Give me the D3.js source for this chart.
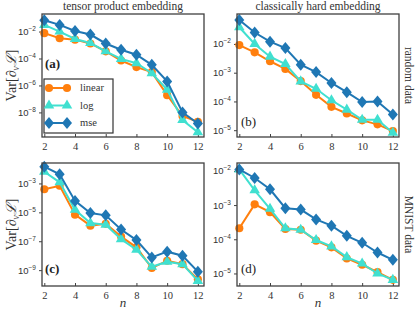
<!DOCTYPE html>
<html>
<head>
<meta charset="utf-8">
<script src="https://d3js.org/d3.v7.min.js"></script>
<style>
  body { margin: 0; background: #fff; }
  svg { font-family: "Liberation Serif", "DejaVu Serif", serif; }
</style>
</head>
<body>
<div id="chart"></div>
<script>
// qubit counts
var nValues = [2, 3, 4, 5, 6, 7, 8, 9, 10, 11, 12];
var seriesNames = ["linear", "log", "mse"];
var seriesColors = ["#ff7f0e", "#40e0d0", "#1f77b4"];

// (a) tensor product embedding, random data
var aLinear = [7.6e-3, 3.2e-3, 2.5e-3, 1.3e-3, 3.4e-4, 7.1e-5, 2.3e-5, 9.8e-6, 1.9e-7, 5.4e-9, 2.0e-9];
var aLog    = [3.1e-2, 1.0e-2, 2.8e-3, 1.4e-3, 3.4e-4, 9.3e-5, 4.5e-5, 8.1e-6, 4.9e-7, 2.7e-9, 3.4e-10];
var aMse    = [6.9e-2, 3.1e-2, 1.1e-2, 6.0e-3, 1.3e-3, 4.5e-4, 1.9e-4, 3.4e-5, 2.0e-6, 1.0e-8, 1.5e-9];

// (b) classically hard embedding, random data
var bLinear = [9.1e-3, 5.1e-3, 2.5e-3, 1.35e-3, 5.1e-4, 1.7e-4, 6.5e-5, 3.8e-5, 2.2e-5, 1.6e-5, 9.3e-6];
var bLog    = [3.8e-2, 1.0e-2, 3.6e-3, 2.0e-3, 5.0e-4, 2.75e-4, 1.1e-4, 5.2e-5, 2.3e-5, 2.3e-5, 8.1e-6];
var bMse    = [6.8e-2, 2.5e-2, 1.2e-2, 7.2e-3, 1.9e-3, 1.05e-3, 4.4e-4, 2.1e-4, 9.5e-5, 1.0e-4, 3.5e-5];

// (c) tensor product embedding, MNIST data
var cLinear = [4.0e-4, 6.9e-4, 6.9e-6, 1.2e-6, 1.6e-6, 2.1e-7, 3.8e-8, 1.4e-9, 4.5e-9, 2.6e-9, 2.3e-10];
var cLog    = [6.5e-3, 1.2e-3, 1.5e-5, 1.8e-6, 1.4e-6, 1.4e-7, 2.6e-8, 1.7e-9, 3.8e-9, 2.6e-9, 1.8e-10];
var cMse    = [1.45e-2, 4.3e-3, 6.2e-5, 8.9e-6, 6.2e-6, 6.5e-7, 1.2e-7, 7.6e-9, 1.9e-8, 1.0e-8, 7.9e-10];

// (d) classically hard embedding, MNIST data
var dLinear = [2.1e-4, 1.05e-3, 6.2e-4, 2.0e-4, 1.9e-4, 9.1e-5, 5.8e-5, 2.75e-5, 1.8e-5, 1.1e-5, 6.5e-6];
var dLog    = [1.1e-2, 2.7e-3, 7.8e-4, 2.1e-4, 1.9e-4, 9.5e-5, 6.2e-5, 3.0e-5, 1.95e-5, 1.0e-5, 6.5e-6];
var dMse    = [1.1e-2, 6.2e-3, 2.9e-3, 8.1e-4, 7.4e-4, 3.8e-4, 2.5e-4, 1.26e-4, 7.9e-5, 4.1e-5, 2.5e-5];

var xTicks = [2, 4, 6, 8, 10, 12];
var aTicks = [-2, -4, -6, -8];
var bTicks = [-2, -3, -4, -5];
var cTicks = [-3, -5, -7, -9];
var dTicks = [-2, -3, -4, -5];

var panels = [
  { label: "(a)", bold: true,  series: [aLinear, aLog, aMse], ticks: aTicks, ydom: [1.5e-10, 0.2],
    x: 42, y: 14, lx: 45, ly: 68, title: "tensor product embedding", ylabel: true, legend: true, xlabel: false },
  { label: "(b)", bold: false, series: [bLinear, bLog, bMse], ticks: bTicks, ydom: [5.8e-6, 0.11],
    x: 237, y: 14, lx: 241, ly: 126, title: "classically hard embedding", side: "random data", xlabel: false },
  { label: "(c)", bold: true,  series: [cLinear, cLog, cMse], ticks: cTicks, ydom: [8e-11, 2.6e-2],
    x: 42, y: 163, lx: 45, ly: 273, ylabel: true, xlabel: true },
  { label: "(d)", bold: false, series: [dLinear, dLog, dMse], ticks: dTicks, ydom: [4.3e-6, 1.7e-2],
    x: 237, y: 163, lx: 241, ly: 273, side: "MNIST data", xlabel: true }
];

var W = 162, H = 123;
var frameColor = "#404040";

var svg = d3.select("#chart").append("svg")
  .attr("width", 415)
  .attr("height", 312);

function markerPath(i) {
  if (i == 0) return d3.symbol().type(d3.symbolCircle).size(52)();
  if (i == 1) return d3.symbol().type(d3.symbolTriangle).size(48)();
  return "M0,-6L5,0L0,6L-5,0Z";
}

function powLabel(sel, e) {
  sel.append("tspan").text("10");
  sel.append("tspan").attr("dy", -4).attr("font-size", 6.5).text("\u2212" + Math.abs(e));
}

panels.forEach(function(p) {
  var g = svg.append("g").attr("transform", "translate(" + p.x + "," + p.y + ")");

  var x = d3.scaleLinear().domain([1.85, 12.4]).range([0, W]);
  var y = d3.scaleLog().domain(p.ydom).range([H, 0]);

  // x axis (ticks pointing inside)
  var xa = g.append("g").attr("transform", "translate(0," + H + ")")
    .call(d3.axisBottom(x).tickValues(xTicks).tickSizeInner(-3).tickSizeOuter(0).tickPadding(6));
  xa.select(".domain").remove();
  xa.selectAll("line").attr("stroke", frameColor);
  xa.selectAll("text").attr("font-size", 10.5).attr("fill", "#333").attr("font-family", "Liberation Serif");

  // y axis
  var ya = g.append("g")
    .call(d3.axisLeft(y).tickValues(p.ticks.map(function(e) { return Math.pow(10, e); }))
      .tickSizeInner(3).tickSizeOuter(0).tickPadding(3).tickFormat(""));
  ya.select(".domain").remove();
  ya.selectAll("line").attr("stroke", frameColor);
  ya.selectAll(".tick").each(function(d) {
    var t = d3.select(this).append("text")
      .attr("x", -6).attr("dy", "0.32em")
      .attr("text-anchor", "end").attr("fill", "#333")
      .attr("font-size", 9.5);
    powLabel(t, Math.round(Math.log10(d)));
  });

  // series
  p.series.forEach(function(vals, i) {
    var pts = vals.map(function(v, k) { return [nValues[k], v]; });
    g.append("path")
      .datum(pts)
      .attr("fill", "none")
      .attr("stroke", seriesColors[i])
      .attr("stroke-width", 2)
      .attr("d", d3.line().x(function(d) { return x(d[0]); }).y(function(d) { return y(d[1]); }));
    g.selectAll(".m" + i)
      .data(pts)
      .enter()
      .append("path")
      .attr("class", "m" + i)
      .attr("transform", function(d) { return "translate(" + x(d[0]) + "," + y(d[1]) + ")"; })
      .attr("d", markerPath(i))
      .attr("fill", seriesColors[i]);
  });

  // frame
  g.append("rect").attr("width", W).attr("height", H)
    .attr("fill", "none").attr("stroke", frameColor).attr("stroke-width", 1.3);

  // panel label
  svg.append("text").attr("x", p.lx).attr("y", p.ly)
    .attr("font-size", 13).attr("font-weight", p.bold ? "bold" : "normal")
    .attr("fill", "#222").text(p.label);

  if (p.title) {
    svg.append("text").attr("x", p.x + W / 2).attr("y", 9.5)
      .attr("text-anchor", "middle").attr("font-size", 11.5).attr("fill", "#333").text(p.title);
  }

  if (p.side) {
    svg.append("text")
      .attr("transform", "translate(405," + (p.y + H / 2) + ") rotate(90)")
      .attr("text-anchor", "middle").attr("font-size", 11.5).attr("fill", "#333").text(p.side);
  }

  if (p.ylabel) {
    var yl = svg.append("text")
      .attr("transform", "translate(16," + (p.y + H / 2) + ") rotate(-90)")
      .attr("text-anchor", "middle").attr("font-size", 14).attr("fill", "#333");
    yl.append("tspan").text("Var[\u2202");
    yl.append("tspan").attr("dy", 3).attr("font-size", 9.5).attr("font-style", "italic").text("\u03bd");
    yl.append("tspan").attr("dy", -3).attr("font-style", "italic").text("\u2112");
    yl.append("tspan").text("]");
  }

  if (p.xlabel) {
    svg.append("text").attr("x", p.x + W / 2).attr("y", 307)
      .attr("text-anchor", "middle").attr("font-size", 13).attr("font-style", "italic")
      .attr("fill", "#333").text("n");
  }

  if (p.legend) {
    var lg = svg.append("g").attr("transform", "translate(44,79)");
    lg.append("rect").attr("width", 69).attr("height", 54)
      .attr("fill", "#fff").attr("stroke", "#333").attr("stroke-width", 1.2);
    seriesNames.forEach(function(name, i) {
      var row = lg.append("g").attr("transform", "translate(0," + (9 + i * 17.5) + ")");
      row.append("line").attr("x1", 5).attr("x2", 23)
        .attr("stroke", seriesColors[i]).attr("stroke-width", 2);
      [5, 23].forEach(function(mx) {
        row.append("path").attr("transform", "translate(" + mx + ",0)")
          .attr("d", markerPath(i)).attr("fill", seriesColors[i]);
      });
      row.append("text").attr("x", 36).attr("dy", "0.32em")
        .attr("font-size", 10.5).attr("fill", "#333").text(name);
    });
  }
});
</script>
</body>
</html>
